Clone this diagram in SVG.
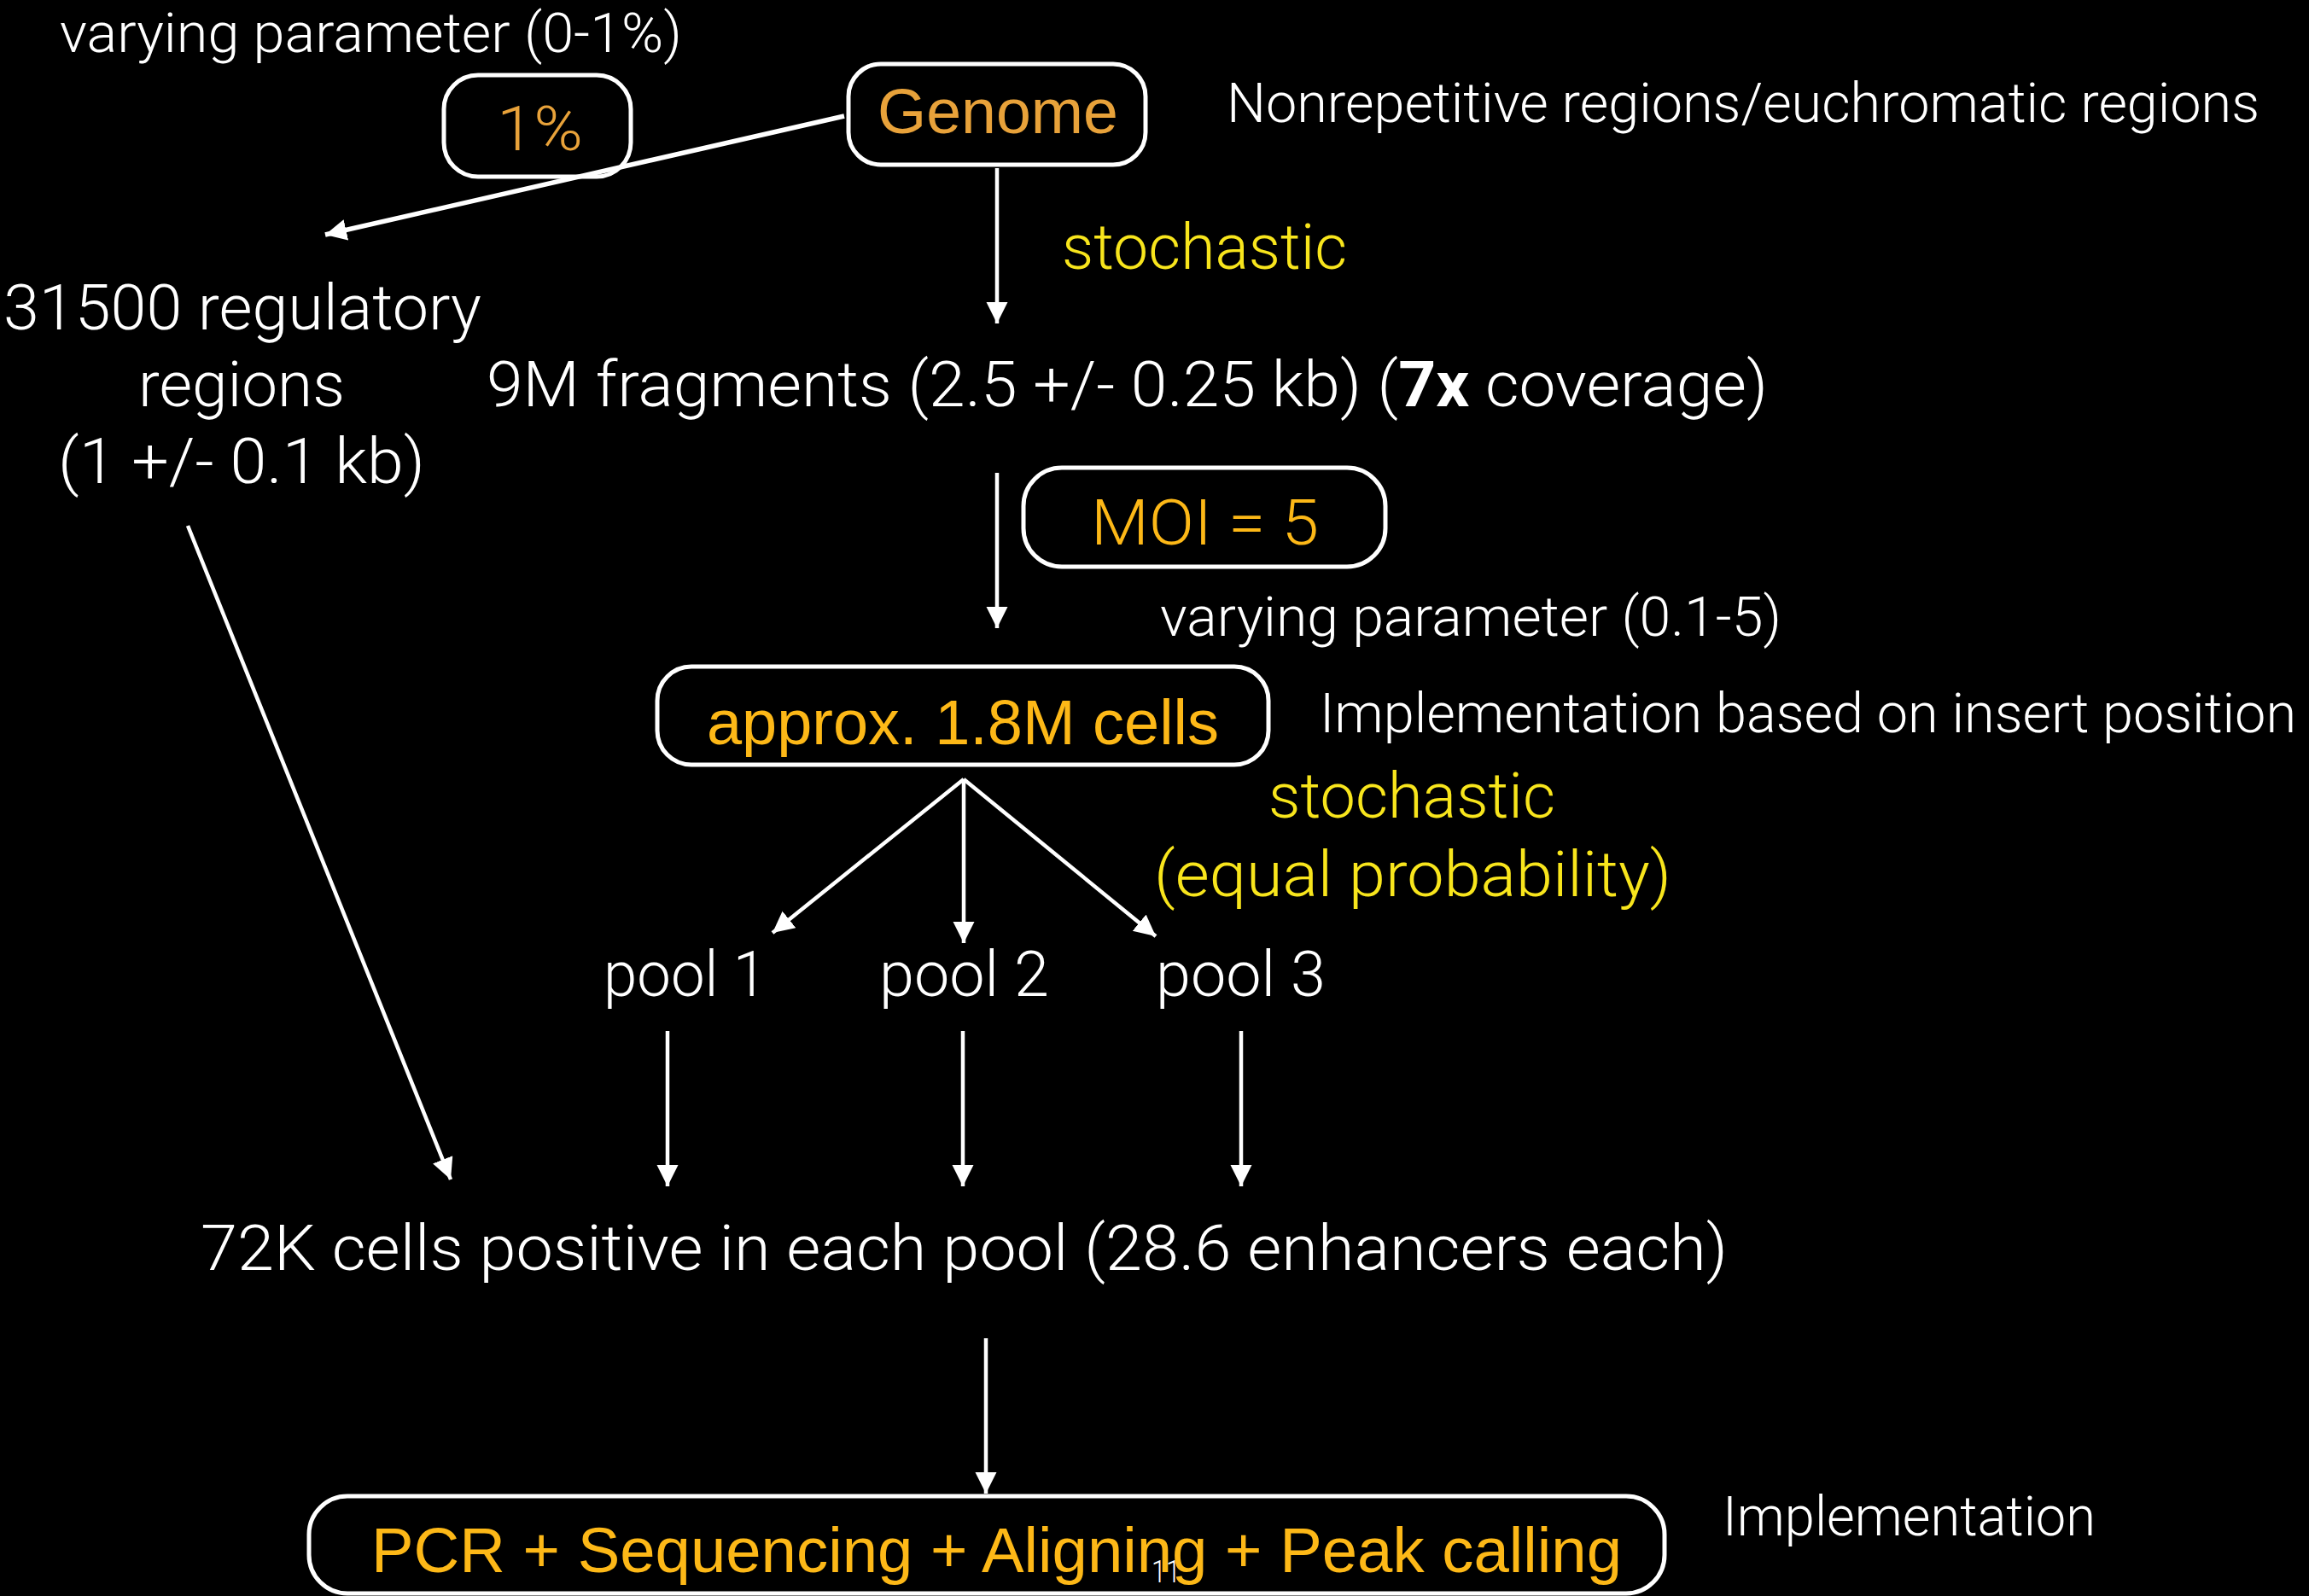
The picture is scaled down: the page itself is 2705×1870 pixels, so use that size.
<svg xmlns="http://www.w3.org/2000/svg" width="2705" height="1870" viewBox="0 0 2705 1870">
<defs>
<style>
.bg{fill:#000}
.box{fill:none;stroke:#fff;stroke-width:5}
.lt{font-family:Roboto,"Liberation Sans",sans-serif;font-weight:300;fill:#fff}
.rg{font-family:"Liberation Sans",Arial,sans-serif;font-weight:400}
.y{fill:#F8E51C}
.o1{fill:#E8A23A}
.o2{fill:#FDB817}
.w{fill:#fff}
.s64{font-size:64px}
.s75{font-size:75px}
.ar{stroke:#fff;stroke-width:4.5;fill:none;marker-end:url(#ah)}
</style>
<marker id="ah" markerUnits="userSpaceOnUse" markerWidth="26" markerHeight="26" refX="25" refY="12.5" orient="auto" viewBox="0 0 26 26">
<path d="M0,0 L25,12.5 L0,25 Z" fill="#fff"/>
</marker>
</defs>
<rect class="bg" x="0" y="0" width="2705" height="1870"/>

<g id="connectors">
<line class="ar" x1="989" y1="136" x2="381" y2="275" style="stroke-width:5.5"/>
<line class="ar" x1="1168" y1="197" x2="1168" y2="379"/>
<line class="ar" x1="1168" y1="554" x2="1168" y2="736"/>
<line class="ar" x1="1129" y1="913" x2="905" y2="1093"/>
<line class="ar" x1="1129" y1="913" x2="1129" y2="1105"/>
<line class="ar" x1="1129" y1="913" x2="1354" y2="1097"/>
<line class="ar" x1="782" y1="1208" x2="782" y2="1390"/>
<line class="ar" x1="1128" y1="1208" x2="1128" y2="1390"/>
<line class="ar" x1="1454" y1="1208" x2="1454" y2="1390"/>
<line class="ar" x1="220" y1="616" x2="528" y2="1382"/>
<line class="ar" x1="1155" y1="1568" x2="1155" y2="1750"/>
</g>

<g id="label-varying-1">
<text class="lt s64" x="70" y="61" textLength="729" lengthAdjust="spacingAndGlyphs">varying parameter (0-1%)</text>
</g>

<g id="node-1pct">
<rect class="box" x="520" y="88" width="219" height="119" rx="40"/>
<text class="lt o1" style="font-size:72px" x="582" y="176" textLength="101" lengthAdjust="spacingAndGlyphs">1%</text>
</g>

<g id="node-genome">
<rect class="box" x="994" y="75" width="348" height="118" rx="38"/>
<text class="rg o1" style="font-size:74px" x="1028" y="156" textLength="282" lengthAdjust="spacingAndGlyphs">Genome</text>
</g>

<g id="label-nonrepetitive">
<text class="lt s64" x="1437" y="143" textLength="1210" lengthAdjust="spacingAndGlyphs">Nonrepetitive regions/euchromatic regions</text>
</g>

<g id="label-stochastic-1">
<text class="lt y s75" x="1244" y="315" textLength="334" lengthAdjust="spacingAndGlyphs">stochastic</text>
</g>

<g id="node-regulatory">
<text class="lt s75" x="4" y="386" textLength="560" lengthAdjust="spacingAndGlyphs">31500 regulatory</text>
<text class="lt s75" x="162" y="476" textLength="242" lengthAdjust="spacingAndGlyphs">regions</text>
<text class="lt s75" x="68" y="566" textLength="430" lengthAdjust="spacingAndGlyphs">(1 +/- 0.1 kb)</text>
</g>

<g id="node-fragments">
<text class="lt s75" x="570" y="476" textLength="1501" lengthAdjust="spacingAndGlyphs">9M fragments (2.5 +/- 0.25 kb) (<tspan font-weight="700">7x</tspan> coverage)</text>
</g>

<g id="node-moi">
<rect class="box" x="1199" y="548" width="424" height="116" rx="45"/>
<text class="lt o2 s75" x="1278" y="638" textLength="267" lengthAdjust="spacingAndGlyphs">MOI = 5</text>
</g>

<g id="label-varying-2">
<text class="lt s64" x="1359" y="745" textLength="728" lengthAdjust="spacingAndGlyphs">varying parameter (0.1-5)</text>
</g>

<g id="node-cells">
<rect class="box" x="770" y="781" width="716" height="115" rx="40"/>
<text class="rg o2 s75" x="828" y="872" textLength="600" lengthAdjust="spacingAndGlyphs">approx. 1.8M cells</text>
</g>

<g id="label-implementation-1">
<text class="lt s64" x="1546" y="858" textLength="1144" lengthAdjust="spacingAndGlyphs">Implementation based on insert position</text>
</g>

<g id="label-stochastic-2">
<text class="lt y s75" x="1486" y="958" textLength="336" lengthAdjust="spacingAndGlyphs">stochastic</text>
<text class="lt y s75" x="1352" y="1050" textLength="606" lengthAdjust="spacingAndGlyphs">(equal probability)</text>
</g>

<g id="node-pool1">
<text class="lt s75" x="707" y="1167" textLength="191" lengthAdjust="spacingAndGlyphs">pool 1</text>
</g>
<g id="node-pool2">
<text class="lt s75" x="1030" y="1167" textLength="199" lengthAdjust="spacingAndGlyphs">pool 2</text>
</g>
<g id="node-pool3">
<text class="lt s75" x="1354" y="1167" textLength="199" lengthAdjust="spacingAndGlyphs">pool 3</text>
</g>

<g id="node-positive">
<text class="lt s75" x="235" y="1488" textLength="1789" lengthAdjust="spacingAndGlyphs">72K cells positive in each pool (28.6 enhancers each)</text>
</g>

<g id="node-pcr">
<rect class="box" x="362" y="1753" width="1588" height="114" rx="45"/>
<text class="rg o2 s75" x="435" y="1842" textLength="1465" lengthAdjust="spacingAndGlyphs">PCR + Sequencing + Aligning + Peak calling</text>
</g>

<g id="label-implementation-2">
<text class="lt s64" x="2018" y="1799" textLength="437" lengthAdjust="spacingAndGlyphs">Implementation</text>
</g>

<g id="page-number">
<text class="lt" style="font-size:36px" x="1349" y="1854" textLength="34" lengthAdjust="spacingAndGlyphs">11</text>
</g>
</svg>
